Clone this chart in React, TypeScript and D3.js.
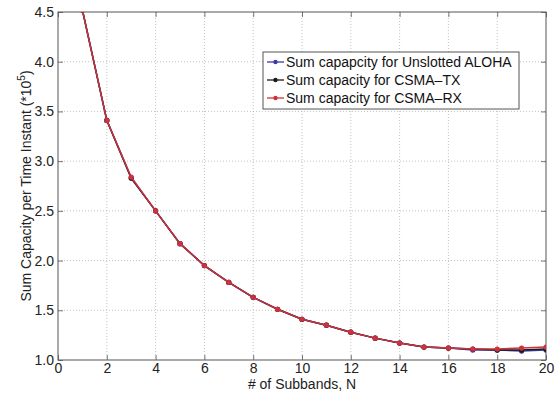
import { useEffect, useRef } from 'react';
import * as d3 from 'd3';

const subbands = [1, 2, 3, 4, 5, 6, 7, 8, 9, 10, 11, 12, 13, 14, 15, 16, 17, 18, 19, 20];
const alohaValues = [4.52, 3.41, 2.83, 2.5, 2.17, 1.95, 1.78, 1.63, 1.51, 1.41, 1.35, 1.28, 1.22, 1.17, 1.13, 1.12, 1.1, 1.1, 1.09, 1.1];
const csmaTxValues = [4.52, 3.41, 2.83, 2.5, 2.17, 1.95, 1.78, 1.63, 1.51, 1.41, 1.35, 1.28, 1.22, 1.17, 1.13, 1.12, 1.11, 1.1, 1.1, 1.11];
const csmaRxValues = [4.52, 3.41, 2.84, 2.5, 2.17, 1.95, 1.78, 1.63, 1.51, 1.41, 1.35, 1.28, 1.22, 1.17, 1.13, 1.12, 1.11, 1.11, 1.12, 1.13];
const xTicks = [0, 2, 4, 6, 8, 10, 12, 14, 16, 18, 20];
const yTicks = [1.0, 1.5, 2.0, 2.5, 3.0, 3.5, 4.0, 4.5];

const seriesNames = ['Sum capapcity for Unslotted ALOHA', 'Sum capacity for CSMA\u2013TX', 'Sum capacity for CSMA\u2013RX'];
const seriesColors = ['#3b3aa6', '#1a1a1a', '#cc323d'];

const FONT = '"Liberation Sans", Arial, Helvetica, sans-serif';

export default function App() {
  const svgRef = useRef<SVGSVGElement>(null);

  useEffect(() => {
    if (!svgRef.current) return;
    const svg = d3.select(svgRef.current);
    svg.selectAll('*').remove();

    const width = 555;
    const height = 393;
    const margin = { top: 12, right: 9, bottom: 33, left: 58 };
    const innerWidth = width - margin.left - margin.right;
    const innerHeight = height - margin.top - margin.bottom;

    const x = d3.scaleLinear().domain([0, 20]).range([0, innerWidth]);
    const y = d3.scaleLinear().domain([1, 4.5]).range([innerHeight, 0]);

    svg.attr('width', width).attr('height', height).attr('viewBox', `0 0 ${width} ${height}`);

    svg.append('defs').append('clipPath').attr('id', 'plot-clip')
      .append('rect').attr('width', innerWidth).attr('height', innerHeight);

    const g = svg.append('g').attr('transform', `translate(${margin.left}, ${margin.top})`);

    // dotted grid
    g.append('g')
      .selectAll('line')
      .data(xTicks.slice(1, -1))
      .join('line')
      .attr('x1', (d) => x(d)).attr('x2', (d) => x(d))
      .attr('y1', 0).attr('y2', innerHeight)
      .attr('stroke', '#b4b4b4').attr('stroke-width', 0.8).attr('stroke-dasharray', '1,2');
    g.append('g')
      .selectAll('line')
      .data(yTicks.slice(1, -1))
      .join('line')
      .attr('x1', 0).attr('x2', innerWidth)
      .attr('y1', (d) => y(d)).attr('y2', (d) => y(d))
      .attr('stroke', '#b4b4b4').attr('stroke-width', 0.8).attr('stroke-dasharray', '1,2');

    // axes, ticks pointing inward on all four sides
    const tickLen = 5;
    const axisColor = '#555';
    g.append('g')
      .attr('transform', `translate(0, ${innerHeight})`)
      .call(d3.axisBottom(x).tickValues(xTicks).tickSize(-tickLen).tickPadding(3).tickFormat(d3.format('d')))
      .call((a) => a.select('.domain').remove());
    g.append('g')
      .call(d3.axisTop(x).tickValues(xTicks).tickSize(-tickLen).tickFormat(() => ''))
      .call((a) => a.select('.domain').remove());
    g.append('g')
      .call(d3.axisLeft(y).tickValues(yTicks).tickSize(-tickLen).tickPadding(4).tickFormat(d3.format('.1f')))
      .call((a) => a.select('.domain').remove());
    g.append('g')
      .attr('transform', `translate(${innerWidth}, 0)`)
      .call(d3.axisRight(y).tickValues(yTicks).tickSize(-tickLen).tickFormat(() => ''))
      .call((a) => a.select('.domain').remove());

    g.selectAll('.tick line').attr('stroke', axisColor).attr('stroke-width', 0.8);
    g.selectAll('.tick text')
      .attr('fill', '#222')
      .attr('font-family', FONT)
      .attr('font-size', 14);

    g.append('rect')
      .attr('width', innerWidth).attr('height', innerHeight)
      .attr('fill', 'none').attr('stroke', axisColor).attr('stroke-width', 1);

    // series
    const allSeries = [alohaValues, csmaTxValues, csmaRxValues];
    const line = d3.line<number>()
      .x((_d, i) => x(subbands[i]))
      .y((d) => y(d));
    const plot = g.append('g').attr('clip-path', 'url(#plot-clip)');
    allSeries.forEach((vals, si) => {
      plot.append('path')
        .datum(vals)
        .attr('d', line)
        .attr('fill', 'none')
        .attr('stroke', seriesColors[si])
        .attr('stroke-width', 1.5);
      plot.append('g')
        .selectAll('circle')
        .data(vals)
        .join('circle')
        .attr('cx', (_d, i) => x(subbands[i]))
        .attr('cy', (d) => y(d))
        .attr('r', 2.6)
        .attr('fill', seriesColors[si]);
    });

    // legend
    const legend = svg.append('g').attr('transform', 'translate(263, 52)');
    legend.append('rect')
      .attr('width', 256).attr('height', 57)
      .attr('fill', '#fff').attr('stroke', '#555').attr('stroke-width', 1);
    seriesNames.forEach((name, i) => {
      const ly = 10 + i * 18;
      legend.append('line')
        .attr('x1', 4).attr('x2', 21).attr('y1', ly).attr('y2', ly)
        .attr('stroke', seriesColors[i]).attr('stroke-width', 1.3);
      legend.append('circle')
        .attr('cx', 12.5).attr('cy', ly).attr('r', 2.2).attr('fill', seriesColors[i]);
      legend.append('text')
        .attr('x', 23).attr('y', ly)
        .attr('dy', '0.36em')
        .attr('font-family', FONT)
        .attr('font-size', 14)
        .attr('fill', '#111')
        .text(name);
    });

    // axis labels
    svg.append('text')
      .attr('x', margin.left + innerWidth / 2)
      .attr('y', 389)
      .attr('text-anchor', 'middle')
      .attr('font-family', FONT)
      .attr('font-size', 14)
      .attr('fill', '#222')
      .text('# of Subbands, N');

    const yl = svg.append('text')
      .attr('transform', `translate(31, ${margin.top + innerHeight / 2}) rotate(-90)`)
      .attr('text-anchor', 'middle')
      .attr('font-family', FONT)
      .attr('font-size', 14)
      .attr('fill', '#222');
    yl.append('tspan').text('Sum Capacity per Time Instant (*10');
    yl.append('tspan').attr('dy', -6).attr('font-size', 10).text('5');
    yl.append('tspan').attr('dy', 6).text(')');
  }, []);

  return (
    <div style={{ position: 'absolute', left: 0, top: 0, width: 555, height: 393, background: '#fff' }}>
      <svg ref={svgRef} style={{ display: 'block' }} />
    </div>
  );
}
